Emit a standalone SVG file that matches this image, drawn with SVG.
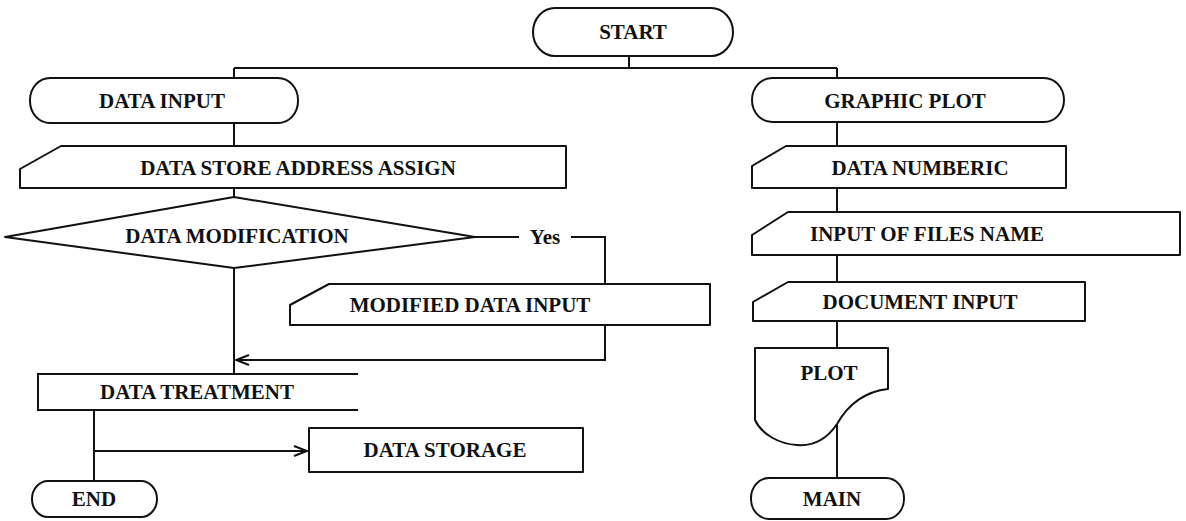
<svg xmlns="http://www.w3.org/2000/svg" width="1186" height="521" viewBox="0 0 1186 521">
<style>
.s{fill:#fff;stroke:#111;stroke-width:2;stroke-linejoin:round}
.o{fill:none;stroke:#111;stroke-width:2}
.c{fill:none;stroke:#111;stroke-width:2}
text{font-family:"Liberation Serif","Times New Roman",serif;font-weight:bold;font-size:21px;fill:#111;text-anchor:middle;dominant-baseline:central}
</style>
<defs>
<marker id="ar" markerWidth="16" markerHeight="12" refX="14" refY="6" orient="auto" markerUnits="userSpaceOnUse">
<path d="M1,1 L14,6 L1,11" fill="none" stroke="#111" stroke-width="2"/>
</marker>
</defs>
<g id="connectors">
<path class="c" d="M629,56 V68 M234,68 H837 M234,68 V78 M837,68 V78"/>
<path class="c" d="M234,123 V146 M234,188 V197 M234,268 V374"/>
<path class="c" d="M475,237 H519 M571,237 H605 V284"/>
<path class="c" d="M605,325 V360 H236" marker-end="url(#ar)"/>
<path class="c" d="M94,410 V481"/>
<path class="c" d="M94,451 H307" marker-end="url(#ar)"/>
<path class="c" d="M837,122 V146 M837,188 V212 M837,255 V282 M837,321 V348 M837,424 V478"/>
</g>
<g id="start"><rect class="s" x="533" y="8" width="200" height="48" rx="22" ry="24"/><text x="633" y="32">START</text></g>
<g id="data-input"><rect class="s" x="30" y="78" width="268" height="45" rx="20" ry="22"/><text x="162" y="101">DATA INPUT</text></g>
<g id="data-store"><path class="s" d="M61,146 H566 V188 H20 V169 Z"/><text x="298" y="168">DATA STORE ADDRESS ASSIGN</text></g>
<g id="data-modification"><path class="s" d="M5,237 L234,197 L475,237 L234,268 Z"/><text x="237" y="236">DATA MODIFICATION</text></g>
<g id="yes-label"><text x="545" y="237">Yes</text></g>
<g id="modified-data-input"><path class="s" d="M329,284 H710 V325 H290 V305 Z"/><text x="470" y="305">MODIFIED DATA INPUT</text></g>
<g id="data-treatment"><path class="o" d="M358,374 H38 V410 H358"/><text x="197" y="392">DATA TREATMENT</text></g>
<g id="data-storage"><rect class="s" x="309" y="428" width="274" height="44"/><text x="445" y="450">DATA STORAGE</text></g>
<g id="end"><rect class="s" x="32" y="481" width="125" height="36" rx="16" ry="18"/><text x="94" y="499">END</text></g>
<g id="graphic-plot"><rect class="s" x="752" y="78" width="312" height="44" rx="20" ry="22"/><text x="905" y="101">GRAPHIC PLOT</text></g>
<g id="data-numberic"><path class="s" d="M786,146 H1066 V188 H752 V166 Z"/><text x="920" y="168">DATA NUMBERIC</text></g>
<g id="input-files-name"><path class="s" d="M788,212 H1180 V255 H752 V235 Z"/><text x="927" y="234">INPUT OF FILES NAME</text></g>
<g id="document-input"><path class="s" d="M788,282 H1085 V321 H753 V302 Z"/><text x="920" y="302">DOCUMENT INPUT</text></g>
<g id="plot"><path class="s" d="M755,348 H888 V389 C860,392 845,410 837,424 C825,442 810,446 797,445 C780,444 762,435 755,420 Z"/><text x="829" y="373">PLOT</text></g>
<g id="main"><rect class="s" x="751" y="478" width="153" height="41" rx="18" ry="20"/><text x="832" y="499">MAIN</text></g>
</svg>
